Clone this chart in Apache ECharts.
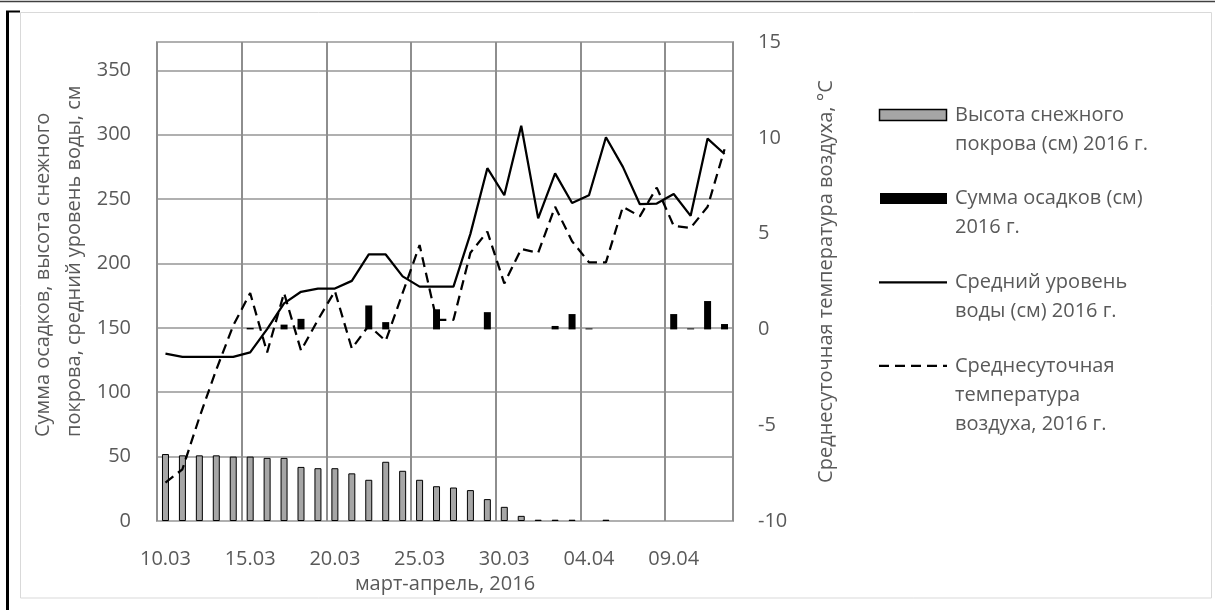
<!DOCTYPE html>
<html><head><meta charset="utf-8">
<script src="https://cdn.jsdelivr.net/npm/echarts@6/dist/echarts.min.js"></script>
<style>html,body{margin:0;padding:0;background:#fff}#c{width:1215px;height:610px}</style>
</head><body><div id="c"></div>
<script>
const categories = ['10.03','11.03','12.03','13.03','14.03','15.03','16.03','17.03','18.03','19.03',
  '20.03','21.03','22.03','23.03','24.03','25.03','26.03','27.03','28.03','29.03',
  '30.03','31.03','01.04','02.04','03.04','04.04','05.04','06.04','07.04','08.04',
  '09.04','10.04','11.04','12.04'];
const snowDepth = [52,51,51,51,50,50,49,49,42,41,41,37,32,46,39,32,27,26,24,17,11,4,1,1,1,0,1,0,0,0,0,0,0,0];
const precipitation = [0,0,0,0,0,0.08,0,0.25,0.55,0,0,0,1.25,0.38,0,0,1.05,0,0,0.9,0,0,0,0.18,0.8,0.05,0,0,0,0,0.8,0.05,1.48,0.28];
const waterLevel = [130,127.5,127.5,127.5,127.5,131,149,169,178,180.5,180.5,186.5,207,207,190,182,182,182,223,274,253,307,235,270,247,253,298,275,246,246.5,254,237,297,285];
const airTemperature = [-8.0,-7.3,-4.6,-2.1,0.2,1.9,-1.2,1.9,-1.1,0.5,2.0,-1.0,0.2,-0.6,1.9,4.4,0.5,0.5,4.0,5.1,2.4,4.2,4.0,6.4,4.6,3.5,3.5,6.4,5.9,7.4,5.4,5.3,6.4,9.4];
const seriesNames = ['Высота снежного покрова (см) 2016 г.','Сумма осадков (см) 2016 г.','Средний уровень воды (см) 2016 г.','Среднесуточная температура воздуха, 2016 г.'];
const legendLines = [['Высота снежного','покрова (см) 2016 г.'],['Сумма осадков (см)','2016 г.'],['Средний уровень','воды (см) 2016 г.'],['Среднесуточная','температура','воздуха, 2016 г.']];
const leftAxisTitle = 'Сумма осадков, высота снежного\nпокрова, средний уровень воды, см';
const rightAxisTitle = 'Среднесуточная температура воздуха, °С';
const xAxisTitle = 'март-апрель, 2016';

const FONT = "'Open Sans', sans-serif";
const TXT = '#595959';
const chart = echarts.init(document.getElementById('c'), null, {renderer:'canvas'});

// zero-height bars are not drawn in the original
const hideZero = arr => arr.map(v => (v === 0 ? null : v));

const legendTop = [115, 198.6, 282.4, 365.8];
const LH = 29;
const graphics = [
  {type:'line', shape:{x1:0,y1:1.5,x2:1215,y2:1.5}, style:{stroke:'#404040', lineWidth:1.5}, silent:true},
  {type:'rect', shape:{x:20.5,y:12.5,width:1191,height:585.5}, style:{fill:'none', stroke:'#d9d9d9', lineWidth:1}, silent:true},
  {type:'line', shape:{x1:7.5,y1:11,x2:7.5,y2:610}, style:{stroke:'#000', lineWidth:3}, silent:true},
  {type:'line', shape:{x1:6,y1:11.5,x2:20,y2:11.5}, style:{stroke:'#000', lineWidth:2}, silent:true},
  {type:'text', x:59, y:437, rotation:Math.PI/2,
    style:{text:leftAxisTitle, fill:TXT, font:"20px 'Open Sans', sans-serif", align:'left', verticalAlign:'middle', lineHeight:31}}
];
legendLines.forEach((lines, i) => {
  const cy = legendTop[i];
  if (i === 0) graphics.push({type:'rect', shape:{x:879.5,y:cy-5.5,width:67,height:11}, style:{fill:'#a6a6a6', stroke:'#000', lineWidth:1.5}});
  if (i === 1) graphics.push({type:'rect', shape:{x:880,y:cy-5.5,width:67,height:11}, style:{fill:'#000'}});
  if (i === 2) graphics.push({type:'line', shape:{x1:879,y1:cy,x2:947,y2:cy}, style:{stroke:'#000', lineWidth:2.25}});
  if (i === 3) graphics.push({type:'line', shape:{x1:879,y1:cy,x2:947,y2:cy}, style:{stroke:'#000', lineWidth:2.25, lineDash:[10,6]}});
  lines.forEach((t, j) => graphics.push({type:'text', x:955, y:cy + j*LH,
    style:{text:t, fill:TXT, font:"20px 'Open Sans', sans-serif", verticalAlign:'middle', align:'left'}}));
});

const option = {
  animation: false,
  textStyle: {fontFamily: FONT},
  grid: {left:157, right:482, top:42, bottom:89, show:true, borderColor:'#a6a6a6', borderWidth:2},
  xAxis: {type:'category', data:categories, boundaryGap:true,
    axisLine:{show:false}, axisTick:{show:false},
    axisLabel:{interval:4, color:TXT, fontSize:20, margin:28, fontFamily:FONT},
    splitLine:{show:true, interval:4, lineStyle:{color:'#8e8e8e', width:2}},
    name:xAxisTitle, nameLocation:'middle', nameGap:53,
    nameTextStyle:{color:TXT, fontSize:20, fontFamily:FONT}},
  yAxis: [
    {type:'value', min:0, max:372, interval:50,
      axisLine:{show:false}, axisTick:{show:false},
      axisLabel:{color:TXT, fontSize:20, margin:26, fontFamily:FONT, formatter:v => (v % 50 === 0 ? String(v) : '')},
      splitLine:{show:true, lineStyle:{color:'#b0b0b0', width:2}}},
    {type:'value', min:-10, max:15, interval:5, position:'right',
      axisLine:{show:false}, axisTick:{show:false},
      axisLabel:{color:TXT, fontSize:20, margin:25, fontFamily:FONT},
      splitLine:{show:false},
      name:rightAxisTitle, nameLocation:'middle', nameRotate:90, nameGap:83,
      nameTextStyle:{color:TXT, fontSize:20, fontFamily:FONT}}
  ],
  graphic: graphics,
  series: [
    {name:seriesNames[0], type:'bar', xAxisIndex:0, yAxisIndex:0, data:hideZero(snowDepth), barWidth:7, barGap:'-100%',
      itemStyle:{color:'#a6a6a6', borderColor:'#000', borderWidth:1}},
    {name:seriesNames[1], type:'bar', xAxisIndex:0, yAxisIndex:1, data:hideZero(precipitation), barWidth:7, barGap:'-100%',
      itemStyle:{color:'#000'}},
    {name:seriesNames[2], type:'line', yAxisIndex:0, data:waterLevel, symbol:'none', z:3,
      lineStyle:{color:'#000', width:2.25}},
    {name:seriesNames[3], type:'line', yAxisIndex:1, data:airTemperature, symbol:'none', z:4,
      lineStyle:{color:'#000', width:2.25, type:[10,6]}}
  ]
};
chart.setOption(option);
</script></body></html>
